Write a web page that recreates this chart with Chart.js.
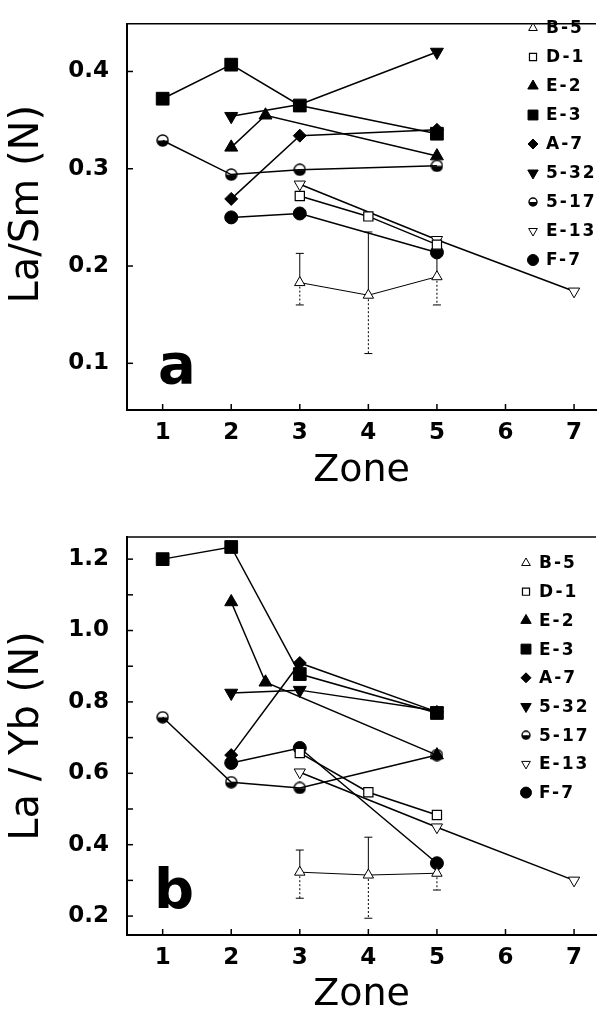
<!DOCTYPE html>
<html>
<head>
<meta charset="utf-8">
<script src="https://cdn.jsdelivr.net/npm/chart.js@4.4.0/dist/chart.umd.min.js"></script>
<style>
  html, body { margin: 0; padding: 0; background: #fff; }
  #wrap { position: relative; width: 606px; height: 1011px; overflow: hidden; }
  .panel { position: absolute; left: 0; width: 606px; }
</style>
</head>
<body>
<div id="wrap">
  <div class="panel" style="top:0;height:500px"><canvas id="chart-a" width="606" height="500"></canvas></div>
  <div class="panel" style="top:500px;height:511px"><canvas id="chart-b" width="606" height="511"></canvas></div>
</div>
<script>
// samples, in legend order
const samples = ['B-5', 'D-1', 'E-2', 'E-3', 'A-7', '5-32', '5-17', 'E-13', 'F-7'];

// zones each sample was measured in
const zonesB5 = [3, 4, 5];
const zonesD1 = [3, 4, 5];
const zonesE2 = [2, 2.5, 5];
const zonesE3 = [1, 2, 3, 5];
const zonesA7 = [2, 3, 5];
const zones532 = [2, 3, 5];
const zones517 = [1, 2, 3, 5];
const zonesE13 = [3, 5, 7];
const zonesF7 = [2, 3, 5];

// panel a : La/Sm (N)
const laSmB5 = [0.183, 0.170, 0.189];
const laSmB5Low = [0.160, 0.110, 0.160];
const laSmB5High = [0.213, 0.235, 0.214];
const laSmD1 = [0.272, 0.251, 0.222];
const laSmE2 = [0.322, 0.355, 0.313];
const laSmE3 = [0.372, 0.407, 0.365, 0.336];
const laSmA7 = [0.269, 0.334, 0.340];
const laSm532 = [0.354, 0.366, 0.420];
const laSm517 = [0.329, 0.294, 0.299, 0.303];
const laSmE13 = [0.284, 0.227, 0.174];
const laSmF7 = [0.250, 0.254, 0.214];

// panel b : La/Yb (N)
const laYbB5 = [0.323, 0.315, 0.320];
const laYbB5Low = [0.250, 0.194, 0.273];
const laYbB5High = [0.385, 0.421, 0.360];
const laYbD1 = [0.657, 0.547, 0.483];
const laYbE2 = [1.080, 0.855, 0.651];
const laYbE3 = [1.200, 1.234, 0.878, 0.769];
const laYbA7 = [0.651, 0.909, 0.772];
const laYb532 = [0.825, 0.833, 0.775];
const laYb517 = [0.757, 0.575, 0.559, 0.651];
const laYbE13 = [0.603, 0.449, 0.300];
const laYbF7 = [0.629, 0.671, 0.348];

// ticks
const zoneTicks = [1, 2, 3, 4, 5, 6, 7];
const laSmTicks = [0.1, 0.2, 0.3, 0.4];
const laYbTicks = [0.2, 0.4, 0.6, 0.8, 1.0, 1.2];
const laYbMinorTicks = [0.3, 0.5, 0.7, 0.9, 1.1];

const sampleZones = [zonesB5, zonesD1, zonesE2, zonesE3, zonesA7, zones532, zones517, zonesE13, zonesF7];

Chart.defaults.font.family = '"DejaVu Sans", sans-serif';
Chart.defaults.color = '#000';

// half filled disc used for 5-17
function halfDisc(size) {
    const c = document.createElement('canvas');
    c.width = size;
    c.height = size;
    const g = c.getContext('2d');
    const r = size / 2 - 1;
    g.beginPath();
    g.arc(size / 2, size / 2, r, 0, Math.PI);
    g.closePath();
    g.fillStyle = '#000';
    g.fill();
    g.beginPath();
    g.arc(size / 2, size / 2, r, 0, 2 * Math.PI);
    g.lineWidth = 1.4;
    g.strokeStyle = '#000';
    g.stroke();
    return c;
}

const markers = [
    {shape: 'triangle', r: 6, fill: '#fff', bw: 1, rot: 0, lr: 5},      // B-5
    {shape: 'rect', r: 6.5, fill: '#fff', bw: 1.2, rot: 0, lr: 5},      // D-1
    {shape: 'triangle', r: 7.5, fill: '#000', bw: 1, rot: 0, lr: 6},    // E-2
    {shape: 'rect', r: 9, fill: '#000', bw: 1, rot: 0, lr: 7},          // E-3
    {shape: 'rectRot', r: 6.5, fill: '#000', bw: 1, rot: 0, lr: 5},     // A-7
    {shape: 'triangle', r: 7.5, fill: '#000', bw: 1, rot: 180, lr: 6},  // 5-32
    {shape: halfDisc(13), legend: halfDisc(10), r: 6.5, fill: '#fff', bw: 1, rot: 0}, // 5-17
    {shape: 'triangle', r: 6.5, fill: '#fff', bw: 1, rot: 180, lr: 5},  // E-13
    {shape: 'circle', r: 6.5, fill: '#000', bw: 1, rot: 0, lr: 5.5}     // F-7
];

function buildDatasets(valueSets) {
    return samples.map((name, i) => ({
        label: name,
        data: sampleZones[i].map((z, k) => ({x: z, y: valueSets[i][k]})),
        borderColor: '#000',
        borderWidth: i === 0 ? 1 : 1.5,
        pointStyle: markers[i].shape,
        pointRadius: markers[i].r,
        pointBackgroundColor: markers[i].fill,
        pointBorderColor: '#000',
        pointBorderWidth: markers[i].bw,
        pointRotation: markers[i].rot,
        tension: 0,
        fill: false
    }));
}

// legend drawn inside the plot, upper right
const insideLegend = {
    id: 'insideLegend',
    afterDraw(chart, args, opts) {
        const ctx = chart.ctx;
        ctx.save();
        ctx.font = 'bold 17px "DejaVu Sans"';
        ctx.letterSpacing = '2px';
        ctx.textBaseline = 'middle';
        ctx.textAlign = 'left';
        chart.data.datasets.forEach((ds, i) => {
            const y = opts.y0 + i * opts.step;
            const m = markers[i];
            ctx.fillStyle = m.fill;
            ctx.strokeStyle = '#000';
            ctx.lineWidth = m.bw;
            Chart.helpers.drawPoint(ctx, {
                pointStyle: m.legend || m.shape,
                radius: m.lr || 5,
                rotation: m.rot,
                borderWidth: m.bw
            }, opts.x, y);
            ctx.fillStyle = '#000';
            ctx.fillText(ds.label, opts.textX, y + 1);
        });
        ctx.restore();
    }
};

// error bars for B-5
const errorBars = {
    id: 'errorBars',
    beforeDatasetsDraw(chart, args, opts) {
        const {ctx, scales: {x, y}} = chart;
        ctx.save();
        ctx.strokeStyle = '#000';
        ctx.lineWidth = 1;
        const seg = (x1, y1, x2, y2) => {
            ctx.beginPath();
            ctx.moveTo(x1, y1);
            ctx.lineTo(x2, y2);
            ctx.stroke();
        };
        opts.zones.forEach((z, i) => {
            const px = x.getPixelForValue(z);
            const pm = y.getPixelForValue(opts.mid[i]);
            const pl = y.getPixelForValue(opts.low[i]);
            const ph = y.getPixelForValue(opts.high[i]);
            ctx.setLineDash([]);
            seg(px, ph, px, pm);
            seg(px - 4, ph, px + 4, ph);
            ctx.setLineDash([2, 2]);
            seg(px, pm, px, pl);
            ctx.setLineDash([]);
            seg(px - 4, pl, px + 4, pl);
        });
        ctx.restore();
    }
};

// top frame line, inward tick marks, panel letter
const frame = {
    id: 'frame',
    afterDraw(chart, args, opts) {
        const {ctx, chartArea: a, scales: {x, y}} = chart;
        ctx.save();
        ctx.strokeStyle = '#000';
        ctx.lineWidth = 1.5;
        ctx.beginPath();
        ctx.moveTo(a.left, a.top);
        ctx.lineTo(a.right, a.top);
        ctx.stroke();
        x.ticks.forEach(t => {
            const px = x.getPixelForValue(t.value);
            ctx.beginPath();
            ctx.moveTo(px, a.bottom);
            ctx.lineTo(px, a.bottom - 6);
            ctx.stroke();
        });
        y.ticks.forEach(t => {
            const py = y.getPixelForValue(t.value);
            ctx.beginPath();
            ctx.moveTo(a.left, py);
            ctx.lineTo(a.left + 6, py);
            ctx.stroke();
        });
        ctx.fillStyle = '#000';
        ctx.font = 'bold 56px "DejaVu Sans"';
        ctx.textBaseline = 'alphabetic';
        ctx.fillText(opts.text, opts.x, opts.y);
        ctx.restore();
    }
};

function isIn(list, v) {
    return list.some(t => Math.abs(t - v) < 1e-6);
}

function panelOptions(p) {
    return {
        responsive: false,
        animation: false,
        devicePixelRatio: 1,
        layout: {padding: {top: p.top, right: 6, left: 0, bottom: 0}},
        plugins: {
            legend: {display: false},
            tooltip: {enabled: false},
            insideLegend: p.legend,
            errorBars: p.errors,
            frame: p.letter
        },
        scales: {
            x: {
                type: 'linear',
                min: 0.48,
                max: 7.32,
                afterBuildTicks: s => { s.ticks = zoneTicks.map(v => ({value: v})); },
                afterFit: s => { s.height = p.xHeight; },
                grid: {display: false},
                border: {display: true, color: '#000', width: 2},
                ticks: {color: '#000', font: {size: 23, weight: 'bold'}, padding: 1, maxRotation: 0, autoSkip: false, callback: v => String(v)},
                title: {display: true, text: 'Zone', color: '#000', font: {size: 38, lineHeight: 1}, padding: {top: 0, bottom: p.xTitlePad}}
            },
            y: {
                type: 'linear',
                min: p.yMin,
                max: p.yMax,
                afterBuildTicks: s => { s.ticks = p.yMarks.map(v => ({value: v})); },
                afterFit: s => { s.width = 127; },
                grid: {display: false},
                border: {display: true, color: '#000', width: 2},
                ticks: {color: '#000', font: {size: 23, weight: 'bold'}, padding: 10, autoSkip: false,
                    callback: v => isIn(p.yLabels, v) ? v.toFixed(1) : ''},
                title: {display: true, text: p.yTitle, color: '#000', font: {size: 40, lineHeight: 1}, padding: {top: 8, bottom: 0}}
            }
        }
    };
}

new Chart(document.getElementById('chart-a'), {
    type: 'line',
    data: {datasets: buildDatasets([laSmB5, laSmD1, laSmE2, laSmE3, laSmA7, laSm532, laSm517, laSmE13, laSmF7])},
    options: panelOptions({
        top: 13, xHeight: 90, xTitlePad: 10,
        yMin: 0.052, yMax: 0.449,
        yMarks: laSmTicks, yLabels: laSmTicks,
        yTitle: '  La/Sm (N)',
        legend: {x: 533, textX: 546, y0: 28, step: 29},
        errors: {zones: zonesB5, mid: laSmB5, low: laSmB5Low, high: laSmB5High},
        letter: {text: 'a', x: 158, y: 383}
    }),
    plugins: [errorBars, frame, insideLegend]
});

new Chart(document.getElementById('chart-b'), {
    type: 'line',
    data: {datasets: buildDatasets([laYbB5, laYbD1, laYbE2, laYbE3, laYbA7, laYb532, laYb517, laYbE13, laYbF7])},
    options: panelOptions({
        top: 37, xHeight: 76, xTitlePad: -3,
        yMin: 0.147, yMax: 1.262,
        yMarks: laYbTicks.concat(laYbMinorTicks), yLabels: laYbTicks,
        yTitle: 'La / Yb (N)',
        legend: {x: 526, textX: 539, y0: 63, step: 28.7},
        errors: {zones: zonesB5, mid: laYbB5, low: laYbB5Low, high: laYbB5High},
        letter: {text: 'b', x: 154, y: 408}
    }),
    plugins: [errorBars, frame, insideLegend]
});
</script>
</body>
</html>
